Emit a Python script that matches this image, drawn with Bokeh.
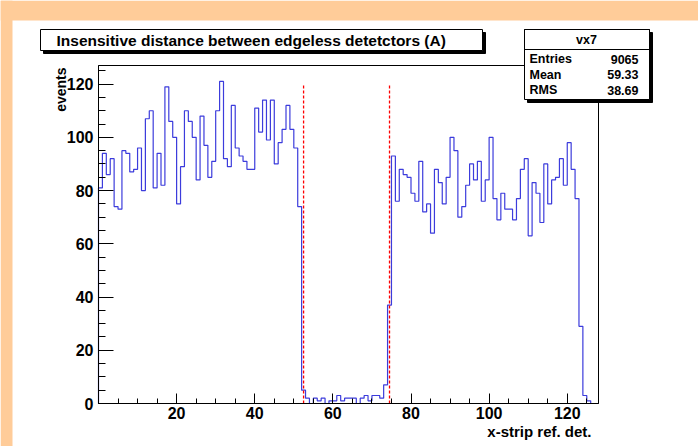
import numpy as np
from bokeh.plotting import figure
from bokeh.models import Range1d, FixedTicker, BoxAnnotation, Label
from bokeh.embed import file_html
from bokeh.resources import INLINE

# ---------------- data ----------------
hist_name = "vx7"
x_low, x_high, n_bins = 0, 128, 128
counts = [81, 94, 86, 92, 74, 73, 95, 94, 87, 88,
          96, 80, 107, 110, 81, 94, 82, 119, 106, 100,
          75, 89, 110, 106, 100, 84, 108, 97, 85, 91,
          110, 121, 92, 89, 112, 96, 93, 91, 88, 88,
          111, 102, 114, 99, 114, 90, 98, 103, 112, 103,
          96, 74, 5, 2, 0, 2, 1, 2, 0, 1,
          1, 3, 1, 2, 2, 2, 0, 2, 3, 1,
          3, 3, 2, 7, 37, 93, 76, 88, 86, 85,
          79, 76, 91, 72, 75, 64, 88, 83, 75, 85,
          100, 95, 70, 74, 82, 90, 84, 91, 76, 84,
          100, 77, 69, 79, 73, 73, 69, 77, 88, 92,
          63, 83, 79, 68, 90, 75, 84, 85, 92, 82,
          98, 88, 77, 29, 3, 1, 0, 0]
y_max = 127
cut_positions = [52.5, 74.5]
cut_top = 120
x_major_ticks = [20, 40, 60, 80, 100, 120]
x_minor_ticks = [5, 10, 15, 25, 30, 35, 45, 50, 55, 65, 70, 75, 85, 90, 95,
                 105, 110, 115, 125]
y_major_ticks = [0, 20, 40, 60, 80, 100, 120]
y_minor_ticks = [5, 10, 15, 25, 30, 35, 45, 50, 55, 65, 70, 75, 85, 90, 95,
                 105, 110, 115, 125]
title_text = "Insensitive distance between edgeless detetctors (A)"
x_title = "x-strip ref. det."
y_title = "events"
stats_names = ["Entries", "Mean", "RMS"]
stats_values = ["9065", "59.33", "38.69"]

# ---------------- geometry (page pixels) ----------------
W, H = 698, 446
FL, FR, FT, FB = 98, 598, 65, 403          # histogram frame
XS = (FR - FL) / (x_high - x_low)
YS = (FB - FT) / y_max
FONT = "Liberation Sans"
HIST_COLOR = "#3c3cdc"
PEACH = "#ffcc99"


def dx(px):
    return x_low + (px - FL) / XS


def dy(py):
    return (FB - py) / YS


p = figure(width=W, height=H, x_range=Range1d(dx(0), dx(W)), y_range=Range1d(dy(H), dy(0)),
           output_backend="svg", toolbar_location=None,
           min_border_left=0, min_border_right=0, min_border_top=0, min_border_bottom=0)
p.grid.visible = False
p.outline_line_color = None
p.background_fill_color = "white"
p.border_fill_color = "white"

# peach page border (left and top)
p.add_layout(BoxAnnotation(left=dx(0), right=dx(12), bottom=dy(H), top=dy(0),
                           fill_color=PEACH, fill_alpha=1, line_color=None, level="underlay"))
p.add_layout(BoxAnnotation(left=dx(0), right=dx(W), bottom=dy(20), top=dy(0),
                           fill_color=PEACH, fill_alpha=1, line_color=None, level="underlay"))

# axes fixed on the histogram frame
p.xaxis.fixed_location = 0
p.xaxis.bounds = (x_low, x_high)
p.yaxis.fixed_location = x_low
p.yaxis.bounds = (0, y_max)
for ax, maj, mnr, tin in ((p.xaxis, x_major_ticks, x_minor_ticks, 10),
                          (p.yaxis, y_major_ticks, y_minor_ticks, 15)):
    ax.ticker = FixedTicker(ticks=maj, minor_ticks=mnr)
    ax.major_tick_in = tin
    ax.major_tick_out = 0
    ax.minor_tick_in = tin // 2
    ax.minor_tick_out = 0
    ax.axis_line_color = "black"
    ax.major_tick_line_color = "black"
    ax.minor_tick_line_color = "black"
    ax.major_label_text_font = FONT
    ax.major_label_text_font_style = "bold"
    ax.major_label_text_font_size = "16px"
    ax.major_label_text_color = "black"
p.xaxis.major_label_standoff = 3
p.yaxis.major_label_standoff = 5

# histogram outline
edges = np.linspace(x_low, x_high, n_bins + 1)
xs = np.repeat(edges, 2)
ys = np.concatenate([[0], np.repeat(np.asarray(counts, dtype=float), 2), [0]])
p.line(xs, ys, line_color=HIST_COLOR, line_width=1.2)

# red dashed cut lines
p.segment(x0=cut_positions, y0=[0] * len(cut_positions), x1=cut_positions,
          y1=[cut_top] * len(cut_positions), line_color="#ff0000", line_width=1.3,
          line_dash="3 2")

# frame box (top / right edges)
p.add_layout(BoxAnnotation(left=x_low, right=x_high, bottom=0, top=y_max,
                           fill_alpha=0, line_color="black", line_alpha=1, line_width=1,
                           level="annotation"))


def box(l, t, r, b, fill):
    p.add_layout(BoxAnnotation(left=dx(l), right=dx(r), top=dy(t), bottom=dy(b),
                               fill_color=fill if fill else "white",
                               fill_alpha=1 if fill else 0,
                               line_color="black", line_alpha=1, line_width=1,
                               level="overlay"))


def label(px, py, text, size, align="left", baseline="middle", angle=0.0):
    p.add_layout(Label(x=dx(px), y=dy(py), text=text, text_font=FONT,
                       text_font_style="bold", text_font_size=size, text_color="black",
                       text_align=align, text_baseline=baseline, angle=angle,
                       level="overlay"))


# title box with shadow
box(43, 32, 485, 53, "black")
box(40, 29, 482, 50, "white")
label(56, 40, title_text, "15.5px")

# stats box with shadow
box(527, 32, 652, 102, "black")
box(524, 29, 649, 99, "white")
box(524, 29, 649, 49, None)
label(586, 39.5, hist_name, "12.5px", align="center")
for i, (nm, vl) in enumerate(zip(stats_names, stats_values)):
    yy = 58.5 + i * 15.5
    label(529, yy, nm, "12.5px", align="left")
    label(638, yy, vl, "12.5px", align="right")

# axis titles
label(591, 431, x_title, "15px", align="right")
label(60, 67, y_title, "14px", align="right", angle=np.pi / 2)

open("out.html", "w").write(file_html(p, INLINE, title="vx7"))
